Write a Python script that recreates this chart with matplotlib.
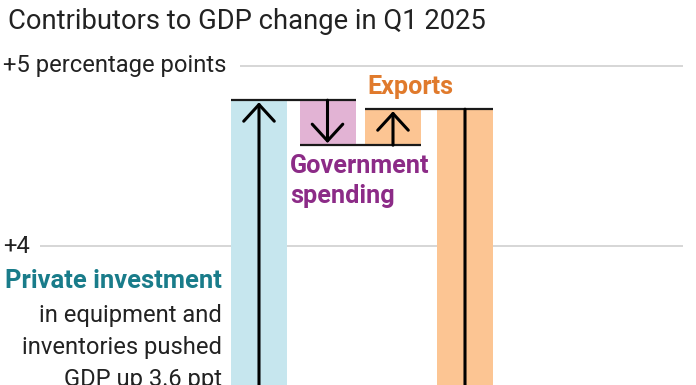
import matplotlib
matplotlib.use('Agg')
import matplotlib.pyplot as plt

# ---- data (percentage-point contributions to Q1 2025 GDP change) ----
categories = ['Consumer spending', 'Private investment', 'Government spending', 'Exports', 'Imports']
contrib = [1.21, 3.60, -0.25, 0.20, -5.03]
bar_colors = ['#c6e6ee', '#c6e6ee', '#e2b3d4', '#fcc593', '#fcc593']
y_ticks = [4, 5]
y_tick_labels = ['+4', '+5 percentage points']
title = 'Contributors to GDP change in Q1 2025'

# ---- layout (pixel positions of bar centres) ----
W, H = 696, 385
positions = [191, 259, 327.5, 393, 465]
bar_w = 56
px_per_unit = 180.0
y_top = 5 + 66 / px_per_unit
y_bot = 5 - (H - 66) / px_per_unit

FONT = ['Roboto', 'DejaVu Sans']
plt.rcParams['font.family'] = FONT

fig = plt.figure(figsize=(W / 100, H / 100), dpi=100)
ax = fig.add_axes([0, 0, 1, 1])
ax.set_xlim(0, W)
ax.set_ylim(y_bot, y_top)
ax.axis('off')

# waterfall
starts, ends = [], []
cum = 0.0
for v in contrib:
    starts.append(cum)
    cum += v
    ends.append(cum)

# gridlines
grid_starts = [40, 240]
for t, gx in zip(y_ticks, grid_starts):
    ax.hlines(t, gx, 683, color='#d3d3d3', lw=1.3, zorder=0)

# bars
bottoms = [min(s, e) for s, e in zip(starts, ends)]
heights = [abs(v) for v in contrib]
ax.bar(positions, heights, bottom=bottoms, width=bar_w, color=bar_colors,
       zorder=1, linewidth=0)

# connectors
for i in range(len(contrib) - 1):
    ax.hlines(ends[i], positions[i] - bar_w / 2, positions[i + 1] + bar_w / 2,
              color='#1a1a1a', lw=1.6, zorder=3)

# arrows
for p, s, e in zip(positions, starts, ends):
    ax.annotate('', xy=(p, e), xytext=(p, s), annotation_clip=False,
                arrowprops=dict(arrowstyle='->,head_length=0.6,head_width=0.55',
                                color='black', lw=2.2, shrinkA=0, shrinkB=1.5,
                                mutation_scale=20),
                zorder=4)

def px(x, y):
    return x / W, 1 - y / H

def fit(t, width):
    r = fig.canvas.get_renderer()
    bb = t.get_window_extent(renderer=r)
    t.set_fontsize(t.get_fontsize() * width / bb.width)

# title
t = fig.text(*px(8, 29), title, fontsize=16, color='#222222', va='baseline', ha='left')
fit(t, 477)

# y tick labels
t = fig.text(*px(3, 72), y_tick_labels[1], fontsize=14, color='#222222', va='baseline', ha='left')
fit(t, 225)
fs_tick = t.get_fontsize()
fig.text(*px(3, 253), y_tick_labels[0], fontsize=fs_tick, color='#222222', va='baseline', ha='left')

# annotations
t = fig.text(*px(410, 94), 'Exports', fontsize=14, fontweight='bold', color='#e07a2c',
             va='baseline', ha='center')
fit(t, 86)
t = fig.text(*px(290, 173), 'Government', fontsize=14, fontweight='bold', color='#8c2b87',
             va='baseline', ha='left')
fit(t, 140)
fs_b = t.get_fontsize()
fig.text(*px(290, 203), 'spending', fontsize=fs_b, fontweight='bold', color='#8c2b87',
         va='baseline', ha='left')
t = fig.text(*px(222, 288), 'Private investment', fontsize=14, fontweight='bold', color='#197c8a',
             va='baseline', ha='right')
fit(t, 217)
lines = ['in equipment and', 'inventories pushed', 'GDP up 3.6 ppt']
for i, ln in enumerate(lines):
    t = fig.text(*px(222, 322 + 32 * i), ln, fontsize=fs_tick, color='#222222',
                 va='baseline', ha='right')

fig.savefig('out.png', dpi=100)
